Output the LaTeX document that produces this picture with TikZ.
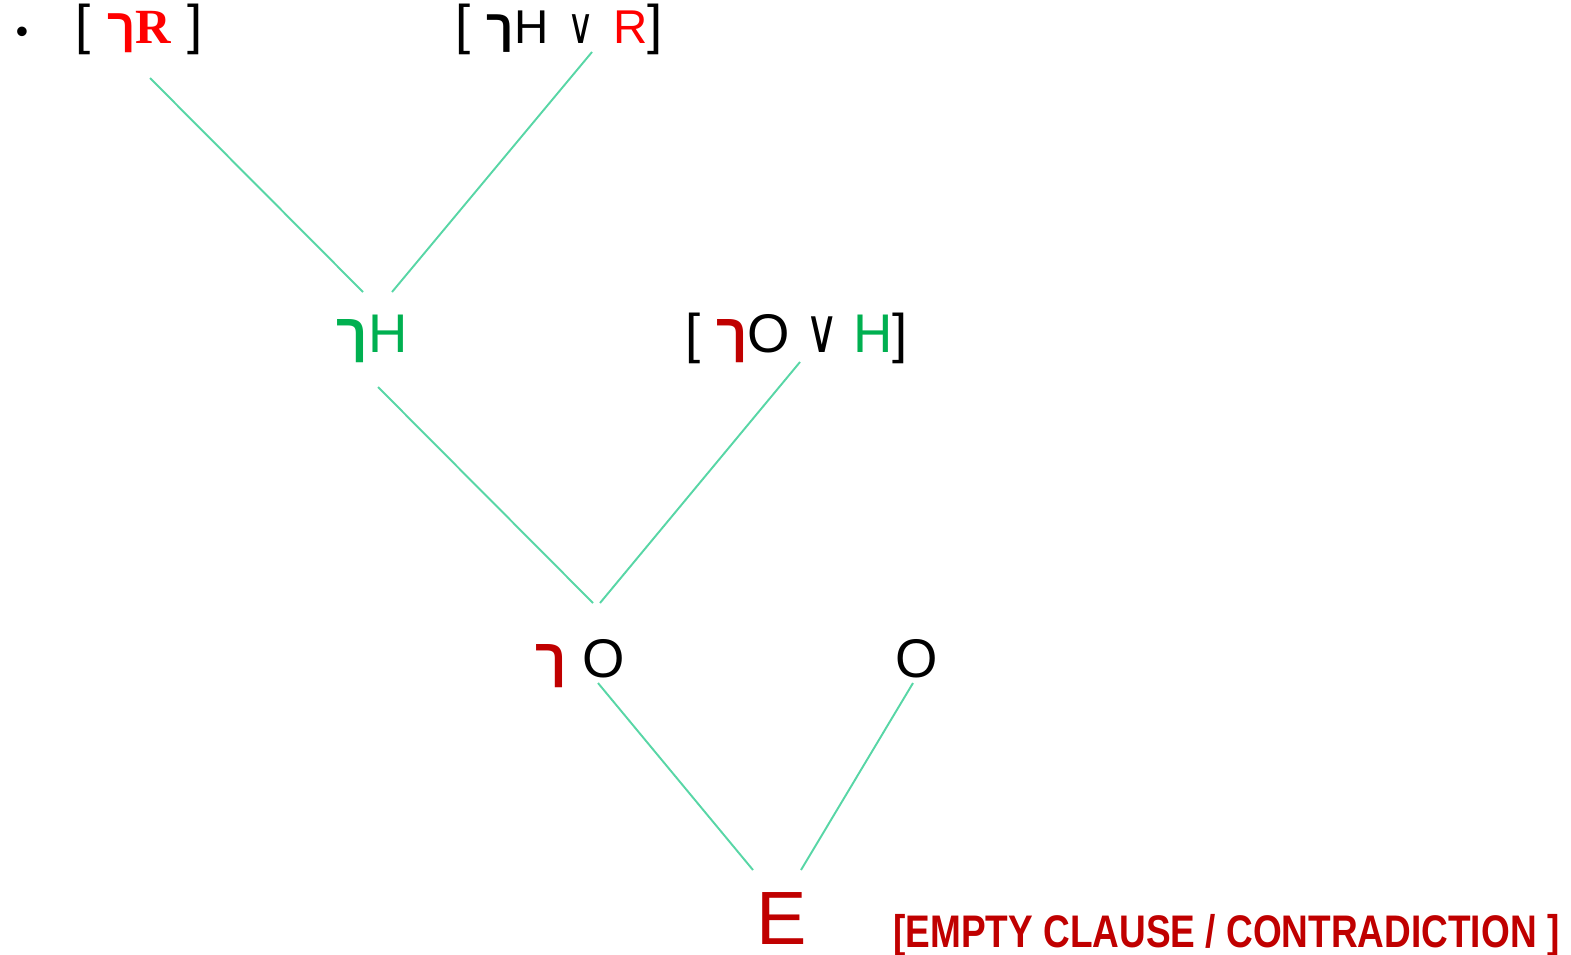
\documentclass[tikz,border=0pt]{standalone}
\usepackage{fontspec}
\setmainfont{Liberation Sans}
\newfontfamily\hebfont[Script=Hebrew]{Liberation Sans}
\newfontfamily\serfont{Liberation Serif}
\newfontfamily\symfont{DejaVu Sans}
\TeXXeTstate=1
\usetikzlibrary{calc}
\definecolor{linkgreen}{RGB}{88,214,166}
\definecolor{okgreen}{RGB}{0,176,80}
\definecolor{darkred}{RGB}{192,0,0}
\newcommand{\hneg}{{\hebfont\bfseries\beginR ך\endR}}
\newcommand{\vor}[1]{\scalebox{1}[1.35]{\symfont\fontsize{#1}{#1}\selectfont ∨}}
\begin{document}
\begin{tikzpicture}[x=0.02cm,y=-0.02cm,
  term/.style={anchor=base,inner sep=0pt,font=\fontsize{31}{36}\selectfont},
  link/.style={linkgreen,line width=1.1pt}]
\useasboundingbox (0,0) rectangle (1571,954);

% Premises row.
\node[term] (dot) at (22,43) {\fontsize{20}{24}\selectfont •};
\node[term] (n1) at (139,43) {[\hspace{0.3em}{\fontsize{28}{32}\selectfont\color{red}\hneg{\serfont\bfseries R}}\hspace{0.3em}]};
\node[term] (n2) at (559,43) {[\hspace{0.3em}{\fontsize{27}{32}\selectfont\hneg H\hspace{0.4em}\vor{21}\hspace{0.4em}{\color{red}R}}]};

% First resolvent row.
\node[term] (n3) at (372,352) {{\color{okgreen}\hneg H}};
\node[term] (n4) at (797,352) {[ {\color{darkred}\hneg}O \vor{26} {\color{okgreen}H}]};

% Second resolvent row.
\node[term] (n5) at (580,677) {{\color{darkred}\hneg} O};
\node[term] (n6) at (917,677) {O};

% Empty clause.
\node[term] (n7) at (782,944) {\fontsize{43}{50}\selectfont\color{darkred}E};
\node[term,anchor=base west] (note) at (893,947)
 {\scalebox{0.81}[1]{\fontsize{26}{30}\selectfont\bfseries\color{darkred}[EMPTY CLAUSE / CONTRADICTION ]}};

% Resolution links.
\draw[link] ($(n1.base)+(11,35)$) -- ($(n3.base)+(-9,-60)$);
\draw[link] ($(n2.base)+(33,9)$) -- ($(n3.base)+(20,-60)$);
\draw[link] ($(n3.base)+(6,35)$) -- ($(n5.base)+(13,-74)$);
\draw[link] ($(n4.base)+(3,10)$) -- ($(n5.base)+(20,-74)$);
\draw[link] ($(n5.base)+(18,6)$) -- ($(n7.base)+(-29,-74)$);
\draw[link] ($(n6.base)+(-4,6)$) -- ($(n7.base)+(19,-74)$);
\end{tikzpicture}
\end{document}
